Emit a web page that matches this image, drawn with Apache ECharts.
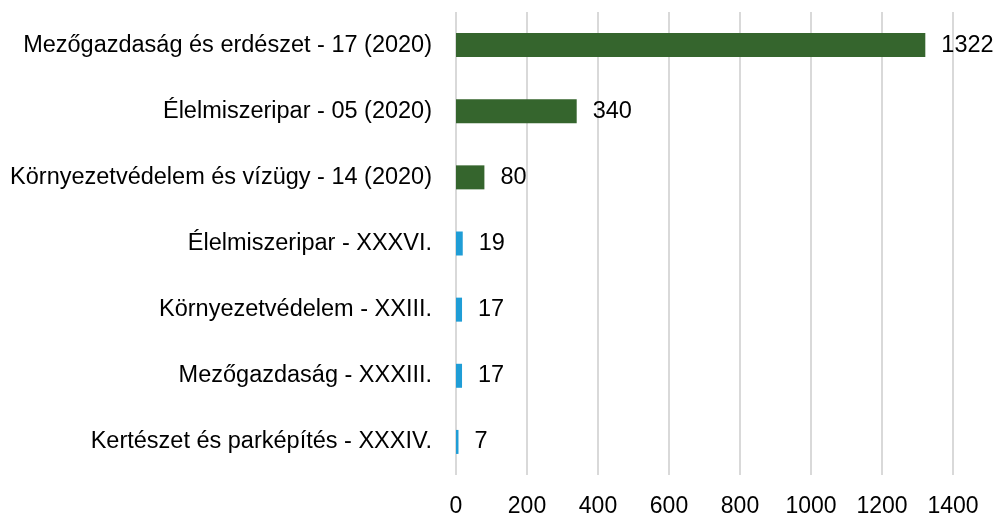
<!DOCTYPE html>
<html>
<head>
<meta charset="utf-8">
<script src="https://cdn.jsdelivr.net/npm/echarts@6/dist/echarts.min.js"></script>
<style>html,body{margin:0;padding:0;background:#fff}#c{width:997px;height:518px}</style>
</head>
<body>
<div id="c"></div>
<script>
var categories = [
  'Mezőgazdaság és erdészet - 17 (2020)',
  'Élelmiszeripar - 05 (2020)',
  'Környezetvédelem és vízügy - 14 (2020)',
  'Élelmiszeripar - XXXVI.',
  'Környezetvédelem - XXIII.',
  'Mezőgazdaság - XXXIII.',
  'Kertészet és parképítés - XXXIV.'
];
var values = [1322, 340, 80, 19, 17, 17, 7];
var isNew2020 = [true, true, true, false, false, false, false];
var xTicks = [0, 200, 400, 600, 800, 1000, 1200, 1400];

var GREEN = '#35652d', BLUE = '#1f9dd6';
var FONT = '"Liberation Sans", Arial, sans-serif';

var chart = echarts.init(document.getElementById('c'));
chart.setOption({
  animation: false,
  backgroundColor: '#fff',
  grid: { left: 456, right: 44, top: 12, bottom: 39, containLabel: false },
  xAxis: {
    type: 'value', min: xTicks[0], max: xTicks[xTicks.length - 1], interval: 200,
    axisLine: { show: false }, axisTick: { show: false },
    splitLine: { show: true, lineStyle: { color: '#d9d9d9', width: 2 } },
    axisLabel: { color: '#000', fontSize: 23, fontFamily: FONT, margin: 20,
      formatter: function (v) { return String(v); } }
  },
  yAxis: {
    type: 'category', data: categories, inverse: true,
    axisLine: { show: false }, axisTick: { show: false },
    axisLabel: { color: '#000', fontSize: 23.5, fontFamily: FONT, margin: 24 }
  },
  series: [{
    type: 'bar',
    barWidth: 24,
    data: values.map(function (v, i) {
      return { value: v, itemStyle: { color: isNew2020[i] ? GREEN : BLUE } };
    }),
    label: { show: true, position: 'right', distance: 16, color: '#000', fontSize: 23.5, fontFamily: FONT }
  }]
});
</script>
</body>
</html>
